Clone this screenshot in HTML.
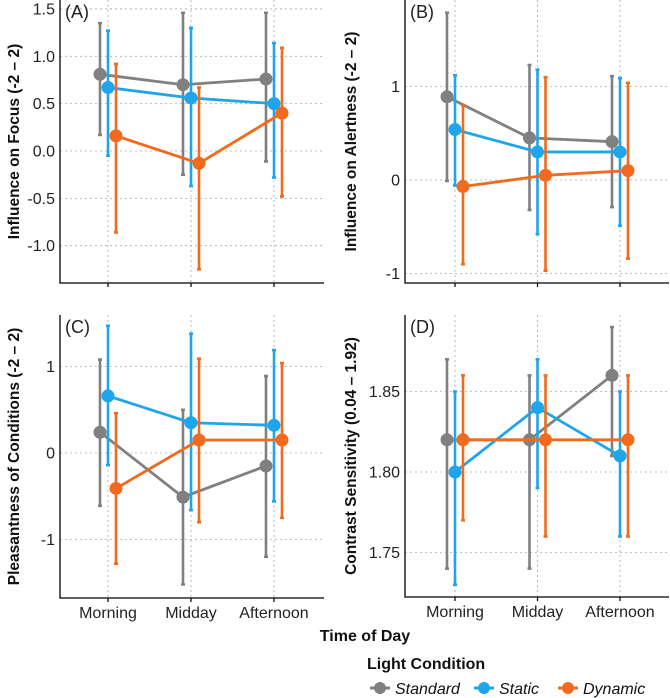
<!DOCTYPE html>
<html><head><meta charset="utf-8"><style>
body{margin:0;background:#fff}
svg{display:block;font-family:"Liberation Sans",Arial,sans-serif}
</style></head><body>
<svg id="c" width="670" height="698"></svg>
<script>
const categories=["Morning","Midday","Afternoon"];
const seriesNames=["Standard","Static","Dynamic"];
const colors=["#808080","#1ea5ec","#f26a1e"];
// Panel A
const aMean=[[0.81,0.70,0.76],[0.67,0.56,0.50],[0.16,-0.13,0.40]];
const aLo=[[0.17,-0.25,-0.11],[-0.05,-0.37,-0.28],[-0.86,-1.25,-0.48]];
const aHi=[[1.35,1.46,1.46],[1.27,1.30,1.14],[0.92,0.67,1.09]];
const aTicks=[-1.0,-0.5,0.0,0.5,1.0,1.5];
// Panel B
const bMean=[[0.89,0.45,0.41],[0.54,0.30,0.30],[-0.07,0.05,0.10]];
const bLo=[[-0.01,-0.32,-0.29],[-0.06,-0.58,-0.49],[-0.90,-0.97,-0.84]];
const bHi=[[1.79,1.23,1.11],[1.12,1.18,1.09],[0.80,1.10,1.04]];
const bTicks=[-1,0,1];
// Panel C
const cMean=[[0.24,-0.51,-0.15],[0.66,0.35,0.32],[-0.41,0.15,0.15]];
const cLo=[[-0.61,-1.52,-1.20],[-0.14,-0.66,-0.56],[-1.28,-0.80,-0.75]];
const cHi=[[1.08,0.50,0.89],[1.47,1.38,1.19],[0.46,1.09,1.04]];
const cTicks=[-1,0,1];
// Panel D
const dMean=[[1.82,1.82,1.86],[1.80,1.84,1.81],[1.82,1.82,1.82]];
const dLo=[[1.74,1.74,1.81],[1.73,1.79,1.76],[1.77,1.76,1.76]];
const dHi=[[1.87,1.86,1.89],[1.85,1.87,1.85],[1.86,1.86,1.86]];
const dTicks=[1.75,1.80,1.85];

const svg=document.getElementById('c');
const NS='http://www.w3.org/2000/svg';
function mk(tag,attrs,parent){const e=document.createElementNS(NS,tag);for(const k in attrs)e.setAttribute(k,attrs[k]);(parent||svg).appendChild(e);return e;}

const panels=[
 {id:'a',label:'(A)',title:'Influence on Focus (-2 – 2)',mean:aMean,lo:aLo,hi:aHi,ticks:aTicks,dec:1,
  x0:60,x1:324,y0:0,y1:283,xm:108,step:83,v0:0,p0:151,ppu:94.7,tx:13,xt:false},
 {id:'b',label:'(B)',title:'Influence on Alertness (-2 – 2)',mean:bMean,lo:bLo,hi:bHi,ticks:bTicks,dec:0,
  x0:405,x1:669,y0:0,y1:283,xm:455,step:82.5,v0:0,p0:180,ppu:93.5,tx:350,xt:false},
 {id:'c',label:'(C)',title:'Pleasantness of Conditions (-2 – 2)',mean:cMean,lo:cLo,hi:cHi,ticks:cTicks,dec:0,
  x0:60,x1:324,y0:315,y1:598,xm:108,step:83,v0:0,p0:453,ppu:86.5,tx:13,xt:true},
 {id:'d',label:'(D)',title:'Contrast Sensitivity (0.04 – 1.92)',mean:dMean,lo:dLo,hi:dHi,ticks:dTicks,dec:2,
  x0:405,x1:669,y0:315,y1:597,xm:455,step:82.5,v0:1.80,p0:472,ppu:1610,tx:350,xt:true}
];
const dodge=[-8,0,8];
panels.forEach(p=>{
 const g=mk('g',{});
 
 
 const X=i=>p.xm+i*p.step;
 const Y=v=>p.p0-(v-p.v0)*p.ppu;
 p.ticks.forEach(t=>{
  const l=mk('line',{x1:p.x0,x2:p.x1,y1:Y(t),y2:Y(t),stroke:'#aaa','stroke-width':0.8,'stroke-dasharray':'2,3'},g);
  
  
  const tl=mk('text',{x:p.x0-5,y:Y(t)+5.5,'text-anchor':'end','font-size':16,fill:'#222'},g);
  
  
  tl.textContent=t.toFixed(p.dec);
 });
 categories.forEach((c,i)=>{
  const l=mk('line',{x1:X(i),x2:X(i),y1:p.y0,y2:p.y1,stroke:'#aaa','stroke-width':0.8,'stroke-dasharray':'2,3'},g);
  
  
  mk('line',{x1:X(i),x2:X(i),y1:p.y1,y2:p.y1+4,stroke:'#000','stroke-width':1.2},g);
  if(p.xt){
   const t=mk('text',{x:X(i),y:p.y1+20,'text-anchor':'middle','font-size':16,fill:'#222'},g);
   
   
   t.textContent=c;
  }
 });
 mk('path',{d:`M${p.x0},${p.y0}V${p.y1}H${p.x1}`,fill:'none',stroke:'#000','stroke-width':1.3},g);
 const lab=mk('text',{x:p.x0+5,y:p.y0+18,'font-size':18,fill:'#222'},g);
 
 
 lab.textContent=p.label;
 const cy=(p.y0+p.y1)/2;
 const yt=mk('text',{x:p.tx,y:cy,'text-anchor':'middle','font-size':15.5,'font-weight':'bold',fill:'#111',transform:`rotate(-90 ${p.tx} ${cy})`,dy:6},g);
 
 
 yt.textContent=p.title;
 seriesNames.forEach((s,k)=>{
  const sg=mk('g',{},g);
  
  
  categories.forEach((c,i)=>{
   const x=X(i)+dodge[k];
   const e=mk('path',{d:`M${x},${Y(p.lo[k][i])}V${Y(p.hi[k][i])}M${x-2},${Y(p.lo[k][i])}h4M${x-2},${Y(p.hi[k][i])}h4`,stroke:colors[k],'stroke-width':2.6,fill:'none'},sg);
   
   
  });
  const d=categories.map((c,i)=>(i?'L':'M')+(X(i)+dodge[k])+','+Y(p.mean[k][i])).join('');
  const ln=mk('path',{d:d,stroke:colors[k],'stroke-width':2.8,fill:'none'},sg);
  
  
  categories.forEach((c,i)=>{
   const pt=mk('circle',{cx:X(i)+dodge[k],cy:Y(p.mean[k][i]),r:6.5,fill:colors[k]},sg);
   
   
  });
 });
});
const xt=mk('text',{x:365,y:641,'text-anchor':'middle','font-size':16,'font-weight':'bold',fill:'#111'});


xt.textContent='Time of Day';
const lt=mk('text',{x:367,y:669,'font-size':16,'font-weight':'bold',fill:'#111'});


lt.textContent='Light Condition';
const lx=[380,484,568];
seriesNames.forEach((s,k)=>{
 const g=mk('g',{});
 
 
 mk('line',{x1:lx[k]-10,x2:lx[k]+10,y1:688,y2:688,stroke:colors[k],'stroke-width':3},g);
 mk('circle',{cx:lx[k],cy:688,r:6,fill:colors[k]},g);
 const t=mk('text',{x:lx[k]+15,y:694,'font-size':16,'font-style':'italic',fill:'#111'},g);
 t.textContent=s;
});
</script>
</body></html>
